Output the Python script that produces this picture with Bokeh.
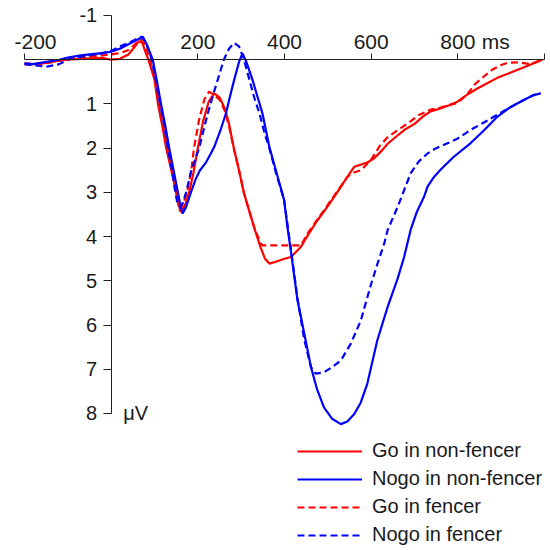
from bokeh.plotting import figure
from bokeh.models import Range1d, FixedTicker, Label, Legend, LegendItem, LinearAxis
from bokeh.embed import file_html
from bokeh.resources import INLINE

# ---------------- data (ms, µV; positive plotted downward) ----------------
go_nf_t = [-200, -180, -150, -120, -100, -70, -50, -20, 0, 20, 40, 55, 64, 72, 80, 86, 100, 108, 118, 127,
           140, 150, 157, 160, 165, 172, 180, 190, 200, 212, 225, 238, 250, 262, 272, 283, 295, 306, 318,
           332, 345, 355, 365, 380, 400, 415, 438, 455, 476, 495, 507, 525, 545, 561, 580, 592, 607, 625,
           638, 660, 676, 700, 720, 737, 760, 780, 799, 820, 845, 870, 891, 922, 950, 968, 995]
go_nf_v = [0.08, 0.10, 0.07, 0.02, 0.00, -0.02, -0.03, -0.04, 0.00, -0.02, -0.12, -0.30, -0.42, -0.38, -0.15,
           0.00, 0.45, 1.00, 1.50, 2.00, 2.55, 3.00, 3.30, 3.44, 3.40, 3.25, 3.00, 2.55, 2.00, 1.40, 0.95,
           0.76, 0.85, 1.10, 1.45, 2.00, 2.50, 3.00, 3.40, 3.86, 4.25, 4.50, 4.61, 4.57, 4.50, 4.46, 4.23,
           3.95, 3.63, 3.38, 3.21, 2.95, 2.65, 2.42, 2.36, 2.32, 2.23, 2.05, 1.90, 1.72, 1.59, 1.45, 1.28,
           1.17, 1.10, 1.03, 0.95, 0.80, 0.65, 0.52, 0.41, 0.29, 0.18, 0.11, 0.00]

nogo_nf_t = [-200, -180, -150, -120, -100, -70, -50, -20, 0, 20, 40, 60, 73, 82, 96, 105, 115, 125, 134, 145,
             154, 160, 165, 172, 184, 195, 205, 219, 230, 238, 252, 265, 275, 284, 295, 303, 312, 326, 338,
             349, 365, 373, 380, 399, 407, 415, 430, 438, 461, 475, 491, 510, 530, 545, 561, 576, 591, 614,
             638, 661, 676, 691, 705, 722, 730, 745, 760, 790, 829, 860, 891, 920, 952, 975, 991]
nogo_nf_v = [0.08, 0.10, 0.05, 0.00, -0.05, -0.10, -0.12, -0.15, -0.18, -0.25, -0.35, -0.45, -0.52, -0.35,
             0.00, 0.45, 1.00, 1.50, 2.00, 2.55, 3.00, 3.30, 3.48, 3.35, 3.00, 2.70, 2.50, 2.32, 2.12, 1.97,
             1.60, 1.21, 0.80, 0.45, 0.05, -0.14, 0.05, 0.45, 0.85, 1.21, 1.97, 2.25, 2.50, 3.17, 3.80, 4.35,
             5.44, 5.82, 6.95, 7.45, 7.86, 8.12, 8.24, 8.18, 8.01, 7.75, 7.33, 6.35, 5.59, 4.95, 4.46, 3.85,
             3.45, 3.10, 2.87, 2.65, 2.49, 2.20, 1.89, 1.60, 1.29, 1.08, 0.91, 0.80, 0.76]

go_f_t = [-200, -180, -150, -120, -100, -70, -50, -20, 0, 20, 40, 55, 68, 78, 88, 100, 110, 120, 131, 142,
          152, 157, 162, 168, 175, 185, 191, 203, 215, 226, 238, 250, 262, 272, 283, 295, 306, 318, 332,
          345, 350, 380, 410, 438, 453, 476, 495, 520, 545, 560, 576, 599, 620, 637, 660, 690, 710, 737,
          760, 780, 799, 820, 840, 860, 880, 900, 914, 940, 968, 995]
go_f_v = [0.10, 0.12, 0.08, 0.02, -0.02, -0.05, -0.07, -0.10, -0.12, -0.15, -0.22, -0.35, -0.45, -0.35,
          -0.05, 0.35, 0.90, 1.45, 2.00, 2.55, 3.10, 3.40, 3.35, 3.20, 3.00, 2.50, 2.00, 1.35, 0.90, 0.72,
          0.80, 0.90, 1.15, 1.50, 2.00, 2.50, 3.00, 3.40, 3.85, 4.15, 4.20, 4.20, 4.20, 4.20, 3.93, 3.61,
          3.35, 3.00, 2.65, 2.55, 2.50, 2.27, 1.95, 1.76, 1.60, 1.40, 1.25, 1.13, 1.08, 1.02, 0.98, 0.80,
          0.55, 0.38, 0.22, 0.12, 0.07, 0.06, 0.10, 0.00]

nogo_f_t = [-200, -180, -150, -120, -100, -70, -50, -20, 0, 20, 40, 55, 69, 80, 92, 100, 110, 120, 131, 142,
            148, 152, 158, 165, 173, 185, 203, 213, 223, 235, 246, 260, 272, 284, 295, 305, 319, 330, 342,
            355, 365, 380, 399, 415, 430, 445, 461, 472, 491, 510, 530, 553, 576, 599, 615, 630, 638, 661,
            691, 710, 730, 750, 776, 800, 829, 860, 883, 920, 952, 975, 991]
nogo_f_v = [0.10, 0.12, 0.16, 0.10, 0.00, -0.07, -0.10, -0.15, -0.20, -0.30, -0.38, -0.45, -0.52, -0.40,
            -0.05, 0.30, 0.85, 1.35, 2.00, 2.60, 3.00, 3.20, 3.33, 3.25, 3.00, 2.50, 2.00, 1.60, 1.21, 0.80,
            0.45, 0.00, -0.25, -0.38, -0.30, -0.05, 0.45, 0.85, 1.21, 1.70, 2.00, 2.55, 3.17, 4.30, 5.40,
            6.30, 6.95, 7.10, 7.07, 6.95, 6.80, 6.42, 5.90, 5.10, 4.60, 4.16, 3.85, 3.33, 2.57, 2.30, 2.12,
            2.00, 1.89, 1.78, 1.59, 1.42, 1.29, 1.08, 0.91, 0.80, 0.76]

series_names = ["Go in non-fencer", "Nogo in non-fencer", "Go in fencer", "Nogo in fencer"]
x_ticks = [-200, 200, 400, 600, 800, 1000]
y_ticks = [-1, 1, 2, 3, 4, 5, 6, 7, 8]

RED = "#ff0000"
BLUE = "#0000ff"
FONT = "Liberation Sans"
TXT = "#1a1a1a"

p = figure(width=550, height=550, output_backend="svg", toolbar_location=None,
           x_range=Range1d(-255.4, 1013.8), y_range=Range1d(11.098, -1.339),
           x_axis_location=None, y_axis_location=None, min_border=0)
p.outline_line_color = None
p.xgrid.grid_line_color = None
p.ygrid.grid_line_color = None
p.background_fill_color = "white"

r_go_nf = p.line(go_nf_t, go_nf_v, line_color=RED, line_width=2.2)
r_go_f = p.line(go_f_t, go_f_v, line_color=RED, line_width=2.2, line_dash="7 4")
r_nogo_f = p.line(nogo_f_t, nogo_f_v, line_color=BLUE, line_width=2.2, line_dash="7 4")
r_nogo_nf = p.line(nogo_nf_t, nogo_nf_v, line_color=BLUE, line_width=2.2)

xax = LinearAxis(fixed_location=0, bounds=(-200, 1000), ticker=FixedTicker(ticks=x_ticks),
                 major_label_overrides={-200: "", 1000: ""})
xax.major_tick_out = 6
xax.major_tick_in = 0
xax.minor_tick_out = 0
xax.minor_tick_in = 0
xax.major_label_standoff = 5
xax.major_label_text_font = FONT
xax.major_label_text_font_size = "21px"
xax.major_label_text_color = TXT
xax.axis_line_color = "#222222"
xax.major_tick_line_color = "#222222"
p.add_layout(xax, "above")

yax = LinearAxis(fixed_location=0, bounds=(-1, 8), ticker=FixedTicker(ticks=y_ticks),
                 major_label_overrides={-1: "-1"})
yax.major_tick_out = 8
yax.major_tick_in = 0
yax.minor_tick_out = 0
yax.minor_tick_in = 0
yax.major_label_standoff = 6
yax.major_label_text_font = FONT
yax.major_label_text_font_size = "20px"
yax.major_label_text_color = TXT
yax.axis_line_color = "#222222"
yax.major_tick_line_color = "#222222"
p.add_layout(yax, "left")

p.add_layout(Label(x=-200, y=0, x_offset=-10, y_offset=18, text="-200", text_align="left",
                   text_baseline="alphabetic", text_font=FONT, text_font_size="21px", text_color=TXT))
p.add_layout(Label(x=800, y=0, x_offset=24, y_offset=18, text="ms", text_align="left",
                   text_baseline="alphabetic", text_font=FONT, text_font_size="21px", text_color=TXT))
p.add_layout(Label(x=0, y=8, x_offset=12, text="μV", text_align="left", text_baseline="middle",
                   text_font=FONT, text_font_size="20px", text_color=TXT))

legend = Legend(items=[LegendItem(label=series_names[0], renderers=[r_go_nf]),
                       LegendItem(label=series_names[1], renderers=[r_nogo_nf]),
                       LegendItem(label=series_names[2], renderers=[r_go_f]),
                       LegendItem(label=series_names[3], renderers=[r_nogo_f])],
                location=(297, 4))
legend.border_line_color = None
legend.background_fill_alpha = 0
legend.padding = 0
legend.margin = 0
legend.glyph_width = 65
legend.glyph_height = 22
legend.label_height = 22
legend.label_standoff = 10
legend.spacing = 5
legend.label_text_font = FONT
legend.label_text_font_size = "20px"
legend.label_text_color = TXT
p.add_layout(legend)

open("out.html", "w").write(file_html(p, INLINE))
